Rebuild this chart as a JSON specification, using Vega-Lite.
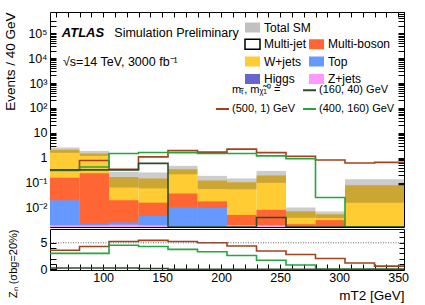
{
  "$schema": "https://vega.github.io/schema/vega-lite/v6.json",
  "padding": {"left": 3, "top": 11, "right": 0, "bottom": 0},
  "config": {
    "font": "Liberation Sans",
    "view": {"stroke": "black", "strokeWidth": 1},
    "axis": {"grid": false, "domain": false, "tickColor": "black", "tickWidth": 1, "labelColor": "black", "titleColor": "black", "labelFont": "Liberation Sans", "titleFont": "Liberation Sans", "labelFontSize": 12.5, "titleFontSize": 13.5, "titleFontWeight": "normal", "labelOverlap": false, "labelBound": false, "labelFlush": false},
    "legend": {"labelFont": "Liberation Sans", "labelColor": "black", "labelFontSize": 12, "padding": 0, "offset": 0, "title": null},
    "text": {"font": "Liberation Sans"}
  },
  "datasets": {
    "bkg": [
      {"lo": 55, "hi": 80, "proc": "Z+jets", "n": 0.002},
      {"lo": 55, "hi": 80, "proc": "Top", "n": 0.018},
      {"lo": 55, "hi": 80, "proc": "Multi-boson", "n": 0.14},
      {"lo": 55, "hi": 80, "proc": "W+jets", "n": 1.94},
      {"lo": 80, "hi": 105, "proc": "Z+jets", "n": 0.002},
      {"lo": 80, "hi": 105, "proc": "Top", "n": 0.0003},
      {"lo": 80, "hi": 105, "proc": "Multi-boson", "n": 0.24},
      {"lo": 80, "hi": 105, "proc": "W+jets", "n": 1.26},
      {"lo": 105, "hi": 130, "proc": "Z+jets", "n": 0.0021},
      {"lo": 105, "hi": 130, "proc": "Top", "n": 0.0005},
      {"lo": 105, "hi": 130, "proc": "Multi-boson", "n": 0.0175},
      {"lo": 105, "hi": 130, "proc": "W+jets", "n": 0.15},
      {"lo": 130, "hi": 155, "proc": "Z+jets", "n": 0.002},
      {"lo": 130, "hi": 155, "proc": "Top", "n": 0.0028},
      {"lo": 130, "hi": 155, "proc": "Multi-boson", "n": 0.0112},
      {"lo": 130, "hi": 155, "proc": "W+jets", "n": 0.134},
      {"lo": 155, "hi": 180, "proc": "Top", "n": 0.0103},
      {"lo": 155, "hi": 180, "proc": "Multi-boson", "n": 0.027},
      {"lo": 155, "hi": 180, "proc": "W+jets", "n": 0.313},
      {"lo": 180, "hi": 205, "proc": "Top", "n": 0.0098},
      {"lo": 180, "hi": 205, "proc": "Multi-boson", "n": 0.0082},
      {"lo": 180, "hi": 205, "proc": "W+jets", "n": 0.107},
      {"lo": 205, "hi": 230, "proc": "Z+jets", "n": 0.002},
      {"lo": 205, "hi": 230, "proc": "Multi-boson", "n": 0.0032},
      {"lo": 205, "hi": 230, "proc": "W+jets", "n": 0.1},
      {"lo": 230, "hi": 255, "proc": "Z+jets", "n": 0.002},
      {"lo": 230, "hi": 255, "proc": "Multi-boson", "n": 0.0063},
      {"lo": 230, "hi": 255, "proc": "W+jets", "n": 0.19},
      {"lo": 255, "hi": 280, "proc": "Multi-boson", "n": 0.0022},
      {"lo": 255, "hi": 280, "proc": "W+jets", "n": 0.005},
      {"lo": 280, "hi": 305, "proc": "Multi-boson", "n": 0.0032},
      {"lo": 280, "hi": 305, "proc": "W+jets", "n": 0.0023},
      {"lo": 305, "hi": 355, "proc": "W+jets", "n": 0.08}
    ],
    "unc": [
      {"lo": 55, "hi": 80, "low": 1.6, "high": 2.6},
      {"lo": 80, "hi": 105, "low": 1.2, "high": 1.9},
      {"lo": 105, "hi": 130, "low": 0.065, "high": 0.28},
      {"lo": 130, "hi": 155, "low": 0.06, "high": 0.26},
      {"lo": 155, "hi": 180, "low": 0.22, "high": 0.48},
      {"lo": 180, "hi": 205, "low": 0.056, "high": 0.19},
      {"lo": 205, "hi": 230, "low": 0.055, "high": 0.15},
      {"lo": 230, "hi": 255, "low": 0.1, "high": 0.3},
      {"lo": 255, "hi": 280, "low": 0.004, "high": 0.0103},
      {"lo": 280, "hi": 305, "low": 0.0039, "high": 0.0071},
      {"lo": 305, "hi": 355, "low": 0.016, "high": 0.14}
    ],
    "sig": [
      {"sig": "(500, 1) GeV", "lo": 55, "n": 0.32},
      {"sig": "(500, 1) GeV", "lo": 80, "n": 0.78},
      {"sig": "(500, 1) GeV", "lo": 105, "n": 0.35},
      {"sig": "(500, 1) GeV", "lo": 130, "n": 1.1},
      {"sig": "(500, 1) GeV", "lo": 155, "n": 1.95},
      {"sig": "(500, 1) GeV", "lo": 180, "n": 1.7},
      {"sig": "(500, 1) GeV", "lo": 205, "n": 2.25},
      {"sig": "(500, 1) GeV", "lo": 230, "n": 1.63},
      {"sig": "(500, 1) GeV", "lo": 255, "n": 1.17},
      {"sig": "(500, 1) GeV", "lo": 280, "n": 0.82},
      {"sig": "(500, 1) GeV", "lo": 305, "n": 0.62},
      {"sig": "(500, 1) GeV", "lo": 330, "n": 0.66},
      {"sig": "(500, 1) GeV", "lo": 355, "n": 0.66},
      {"sig": "(400, 160) GeV", "lo": 55, "n": 0.31},
      {"sig": "(400, 160) GeV", "lo": 80, "n": 0.43},
      {"sig": "(400, 160) GeV", "lo": 105, "n": 1.49},
      {"sig": "(400, 160) GeV", "lo": 130, "n": 1.65},
      {"sig": "(400, 160) GeV", "lo": 155, "n": 1.6},
      {"sig": "(400, 160) GeV", "lo": 180, "n": 1.5},
      {"sig": "(400, 160) GeV", "lo": 205, "n": 1.5},
      {"sig": "(400, 160) GeV", "lo": 230, "n": 1.2},
      {"sig": "(400, 160) GeV", "lo": 255, "n": 0.93},
      {"sig": "(400, 160) GeV", "lo": 280, "n": 0.026},
      {"sig": "(400, 160) GeV", "lo": 305, "n": 0},
      {"sig": "(400, 160) GeV", "lo": 330, "n": 0},
      {"sig": "(400, 160) GeV", "lo": 355, "n": 0},
      {"sig": "(160, 40) GeV", "lo": 55, "n": 0.33},
      {"sig": "(160, 40) GeV", "lo": 80, "n": 0.33},
      {"sig": "(160, 40) GeV", "lo": 105, "n": 0.33},
      {"sig": "(160, 40) GeV", "lo": 130, "n": 0.6},
      {"sig": "(160, 40) GeV", "lo": 155, "n": 0},
      {"sig": "(160, 40) GeV", "lo": 180, "n": 0},
      {"sig": "(160, 40) GeV", "lo": 205, "n": 0},
      {"sig": "(160, 40) GeV", "lo": 230, "n": 0.0041},
      {"sig": "(160, 40) GeV", "lo": 255, "n": 0},
      {"sig": "(160, 40) GeV", "lo": 280, "n": 0},
      {"sig": "(160, 40) GeV", "lo": 305, "n": 0},
      {"sig": "(160, 40) GeV", "lo": 330, "n": 0},
      {"sig": "(160, 40) GeV", "lo": 355, "n": 0}
    ],
    "zn": [
      {"sig": "(500, 1) GeV", "lo": 55, "z": 3.6},
      {"sig": "(500, 1) GeV", "lo": 80, "z": 4.3},
      {"sig": "(500, 1) GeV", "lo": 105, "z": 5.25},
      {"sig": "(500, 1) GeV", "lo": 130, "z": 5.45},
      {"sig": "(500, 1) GeV", "lo": 155, "z": 5.25},
      {"sig": "(500, 1) GeV", "lo": 180, "z": 5.0},
      {"sig": "(500, 1) GeV", "lo": 205, "z": 4.4},
      {"sig": "(500, 1) GeV", "lo": 230, "z": 3.45},
      {"sig": "(500, 1) GeV", "lo": 255, "z": 2.8},
      {"sig": "(500, 1) GeV", "lo": 280, "z": 2.05},
      {"sig": "(500, 1) GeV", "lo": 305, "z": 1.2},
      {"sig": "(500, 1) GeV", "lo": 330, "z": 0.6},
      {"sig": "(500, 1) GeV", "lo": 355, "z": 0.6},
      {"sig": "(400, 160) GeV", "lo": 55, "z": 3.0},
      {"sig": "(400, 160) GeV", "lo": 80, "z": 3.0},
      {"sig": "(400, 160) GeV", "lo": 105, "z": 4.55},
      {"sig": "(400, 160) GeV", "lo": 130, "z": 4.3},
      {"sig": "(400, 160) GeV", "lo": 155, "z": 3.75},
      {"sig": "(400, 160) GeV", "lo": 180, "z": 3.3},
      {"sig": "(400, 160) GeV", "lo": 205, "z": 2.6},
      {"sig": "(400, 160) GeV", "lo": 230, "z": 1.7},
      {"sig": "(400, 160) GeV", "lo": 255, "z": 0.8},
      {"sig": "(400, 160) GeV", "lo": 280, "z": 0},
      {"sig": "(400, 160) GeV", "lo": 305, "z": 0},
      {"sig": "(400, 160) GeV", "lo": 330, "z": 0},
      {"sig": "(400, 160) GeV", "lo": 355, "z": 0},
      {"sig": "(160, 40) GeV", "lo": 55, "z": 0.25},
      {"sig": "(160, 40) GeV", "lo": 80, "z": 0.25},
      {"sig": "(160, 40) GeV", "lo": 105, "z": 0.25},
      {"sig": "(160, 40) GeV", "lo": 130, "z": 0.15},
      {"sig": "(160, 40) GeV", "lo": 155, "z": 0},
      {"sig": "(160, 40) GeV", "lo": 180, "z": 0},
      {"sig": "(160, 40) GeV", "lo": 205, "z": 0},
      {"sig": "(160, 40) GeV", "lo": 230, "z": 0},
      {"sig": "(160, 40) GeV", "lo": 255, "z": 0},
      {"sig": "(160, 40) GeV", "lo": 280, "z": 0},
      {"sig": "(160, 40) GeV", "lo": 305, "z": 0},
      {"sig": "(160, 40) GeV", "lo": 330, "z": 0},
      {"sig": "(160, 40) GeV", "lo": 355, "z": 0}
    ]
  },
  "spacing": 0,
  "resolve": {"scale": {"stroke": "independent", "color": "independent", "fill": "independent"}},
  "vconcat": [
    {
      "width": 354,
      "height": 215,
      "resolve": {"axis": {"x": "independent", "y": "independent"}},
      "layer": [
        {
          "data": {"name": "bkg"},
          "transform": [
            {"calculate": "indexof(['Z+jets','Higgs','Top','Multi-boson','W+jets','Multi-jet'], datum.proc)", "as": "ord"},
            {"stack": "n", "groupby": ["lo"], "sort": [{"field": "ord", "order": "ascending"}], "as": ["n0", "n1"]}
          ],
          "mark": {"type": "rect", "clip": true},
          "encoding": {
            "x": {"field": "lo", "type": "quantitative", "scale": {"domain": [55, 355], "nice": false, "zero": false},
              "axis": {"orient": "bottom", "values": [60,70,80,90,100,110,120,130,140,150,160,170,180,190,200,210,220,230,240,250,260,270,280,290,300,310,320,330,340,350], "labels": false, "title": null, "tickSize": -5}},
            "x2": {"field": "hi"},
            "y": {"field": "n1", "type": "quantitative", "stack": null, "scale": {"type": "log", "domain": [0.0017, 700000], "nice": false, "clamp": true},
              "axis": {"orient": "left", "title": "Events / 40 GeV", "titleAnchor": "end", "titlePadding": 7, "labelPadding": 9, "tickSize": -6,
                "values": [0.003,0.004,0.005,0.006,0.007,0.008,0.009,0.01,0.02,0.03,0.04,0.05,0.06,0.07,0.08,0.09,0.1,0.2,0.3,0.4,0.5,0.6,0.7,0.8,0.9,1,2,3,4,5,6,7,8,9,10,20,30,40,50,60,70,80,90,100,200,300,400,500,600,700,800,900,1000,2000,3000,4000,5000,6000,7000,8000,9000,10000,20000,30000,40000,50000,60000,70000,80000,90000,100000,200000,300000],
                "labelExpr": "datum.value == 100000 ? '10⁵' : datum.value == 10000 ? '10⁴' : datum.value == 1000 ? '10³' : datum.value == 100 ? '10²' : datum.value == 10 ? '10' : datum.value == 1 ? '1' : datum.value == 0.1 ? '10⁻¹' : datum.value == 0.01 ? '10⁻²' : ''"}},
            "y2": {"datum": 0.0001},
            "color": {"field": "proc", "type": "nominal",
              "scale": {"domain": ["Multi-jet", "Multi-boson", "W+jets", "Top", "Higgs", "Z+jets"], "range": ["white", "#ff6633", "#ffcc33", "#6699ff", "#6666cc", "#ff99ff"]},
              "legend": {"orient": "none", "direction": "horizontal", "legendX": 194, "legendY": 23.5, "columns": 2, "columnPadding": -1, "rowPadding": 0.5,
                "symbolType": "M-1,-0.667H1V0.667H-1Z", "symbolSize": 225, "labelOffset": 3, "labelFontSize": 12, "title": null,
                "encode": {"symbols": {"update": {"stroke": {"signal": "datum.value === 'Multi-jet' ? 'black' : 'transparent'"}, "strokeWidth": {"value": 1.5}, "opacity": {"value": 1}}}}}},
            "order": {"field": "n1", "sort": "descending"}
          }
        },
        {
          "data": {"name": "unc"},
          "mark": {"type": "rect", "fillOpacity": 0.25, "clip": true},
          "encoding": {
            "x": {"field": "lo", "type": "quantitative", "scale": {"domain": [55, 355], "nice": false, "zero": false}, "axis": null},
            "x2": {"field": "hi"},
            "y": {"field": "high", "type": "quantitative", "scale": {"type": "log", "domain": [0.0017, 700000], "nice": false, "clamp": true}, "axis": null},
            "y2": {"field": "low"},
            "fill": {"datum": "Total SM", "type": "nominal", "scale": {"range": ["#333333"]},
              "legend": {"orient": "none", "legendX": 194, "legendY": 7, "symbolType": "M-1,-0.667H1V0.667H-1Z", "symbolSize": 225, "labelOffset": 3, "labelFontSize": 12, "title": null, "symbolOpacity": 0.3}}
          }
        },
        {
          "data": {"values": [{}]},
          "mark": {"type": "text", "text": "ATLAS", "fontWeight": "bold", "fontStyle": "italic", "fontSize": 13, "align": "left", "baseline": "middle"},
          "encoding": {
            "x": {"datum": 65, "type": "quantitative", "scale": {"domain": [55, 355], "nice": false, "zero": false}, "axis": null},
            "y": {"datum": 100000, "type": "quantitative", "scale": {"type": "log", "domain": [0.0017, 700000], "nice": false, "clamp": true}, "axis": null}
          }
        },
        {
          "data": {"values": [{}]},
          "mark": {"type": "text", "text": "Simulation Preliminary", "fontSize": 12.5, "align": "left", "baseline": "middle"},
          "encoding": {
            "x": {"datum": 109.5, "type": "quantitative", "scale": {"domain": [55, 355], "nice": false, "zero": false}, "axis": null},
            "y": {"datum": 100000, "type": "quantitative", "scale": {"type": "log", "domain": [0.0017, 700000], "nice": false, "clamp": true}, "axis": null}
          }
        },
        {
          "data": {"values": [{}]},
          "mark": {"type": "text", "text": "√s=14 TeV, 3000 fb⁻¹", "fontSize": 12.5, "align": "left", "baseline": "middle"},
          "encoding": {
            "x": {"datum": 66, "type": "quantitative", "scale": {"domain": [55, 355], "nice": false, "zero": false}, "axis": null},
            "y": {"datum": 7000, "type": "quantitative", "scale": {"type": "log", "domain": [0.0017, 700000], "nice": false, "clamp": true}, "axis": null}
          }
        },
        {
          "data": {"name": "sig"},
          "mark": {"type": "line", "interpolate": "step-after", "strokeWidth": 1.6, "clip": true},
          "encoding": {
            "x": {"field": "lo", "type": "quantitative", "scale": {"domain": [55, 355], "nice": false, "zero": false},
              "axis": {"orient": "top", "values": [60,70,80,90,100,110,120,130,140,150,160,170,180,190,200,210,220,230,240,250,260,270,280,290,300,310,320,330,340,350], "labels": false, "title": null, "tickSize": -5}},
            "y": {"field": "n", "type": "quantitative", "scale": {"type": "log", "domain": [0.0017, 700000], "nice": false, "clamp": true},
              "axis": {"orient": "right", "labels": false, "title": null, "tickSize": -6,
                "values": [0.002,0.003,0.004,0.005,0.006,0.007,0.008,0.009,0.01,0.02,0.03,0.04,0.05,0.06,0.07,0.08,0.09,0.1,0.2,0.3,0.4,0.5,0.6,0.7,0.8,0.9,1,2,3,4,5,6,7,8,9,10,20,30,40,50,60,70,80,90,100,200,300,400,500,600,700,800,900,1000,2000,3000,4000,5000,6000,7000,8000,9000,10000,20000,30000,40000,50000,60000,70000,80000,90000,100000,200000,300000,400000,500000,600000,700000]}},
            "stroke": {"field": "sig", "type": "nominal",
              "scale": {"domain": ["m\u209c\u0303, m\u1d6a\u0303\u2081\u2070 =", "(160, 40) GeV", "(500, 1) GeV", "(400, 160) GeV"], "range": ["transparent", "#2e4d2e", "#a3421c", "#22a63e"]},
              "legend": {"orient": "none", "direction": "horizontal", "legendX": 165, "legendY": 70.5, "columns": 2, "columnPadding": 4, "rowPadding": 6, "symbolType": "stroke", "symbolSize": 169, "symbolStrokeWidth": 2, "labelFontSize": 11, "labelOffset": 2, "title": null}}
          }
        }
      ]
    },
    {
      "width": 354,
      "height": 41,
      "resolve": {"axis": {"y": "independent"}},
      "layer": [
        {
          "data": {"name": "zn"},
          "mark": {"type": "line", "interpolate": "step-after", "strokeWidth": 1.6, "clip": true},
          "encoding": {
            "x": {"field": "lo", "type": "quantitative", "scale": {"domain": [55, 355], "nice": false, "zero": false},
              "axis": {"orient": "bottom", "values": [60,70,80,90,100,110,120,130,140,150,160,170,180,190,200,210,220,230,240,250,260,270,280,290,300,310,320,330,340,350],
                "labelExpr": "datum.value % 50 === 0 ? datum.label : ''", "labelPadding": 7, "tickSize": -6, "title": "mT2 [GeV]", "titleAnchor": "end", "titlePadding": 5}},
            "y": {"field": "z", "type": "quantitative", "scale": {"domain": [-0.13, 7.6], "nice": false, "zero": false},
              "axis": {"orient": "left", "values": [0, 1, 2, 3, 4, 5], "labelExpr": "datum.value % 5 === 0 ? datum.label : ''", "labelPadding": 9, "tickSize": -6,
                "title": "Zₙ (σbg=20%)", "titleFontSize": 11, "titleAnchor": "end", "titlePadding": 22}},
            "stroke": {"field": "sig", "type": "nominal",
              "scale": {"domain": ["(160, 40) GeV", "(500, 1) GeV", "(400, 160) GeV"], "range": ["#2e4d2e", "#a3421c", "#22a63e"]},
              "legend": null}
          }
        },
        {
          "data": {"values": [{}]},
          "mark": {"type": "rule", "strokeDash": [1, 1.5], "color": "#666666", "strokeWidth": 1},
          "encoding": {
            "y": {"datum": 5, "type": "quantitative", "scale": {"domain": [-0.13, 7.6], "nice": false, "zero": false},
              "axis": {"orient": "right", "values": [0,1,2,3,4,5,6,7], "labels": false, "title": null, "tickSize": -5}}
          }
        }
      ]
    }
  ]
}
